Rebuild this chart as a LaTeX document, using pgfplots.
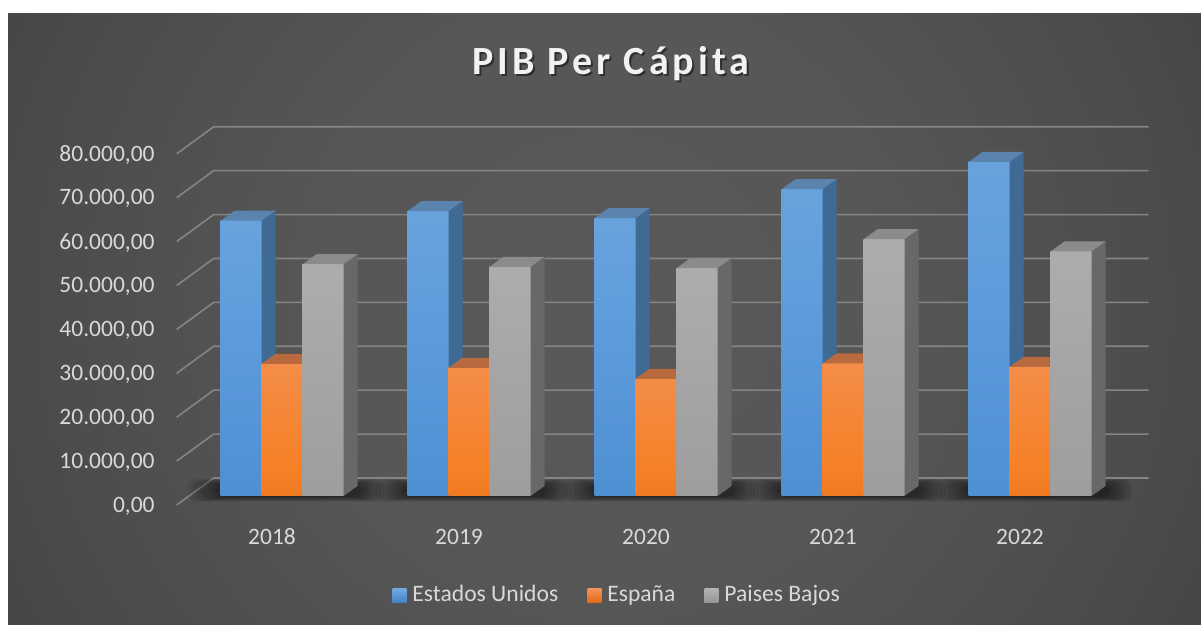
\documentclass[border=0pt]{standalone}
\usepackage{fontspec}
\setmainfont{Carlito}
\newfontfamily\titlefont[LetterSpace=10]{Carlito}
\usepackage{pgfplots}
\pgfplotsset{compat=1.18}
\usepackage{pgfplotstable}

\definecolor{bgdark}{HTML}{262626}
\definecolor{bglight}{HTML}{595959}
\definecolor{txt}{HTML}{D9D9D9}
\definecolor{gridc}{HTML}{858585}
\definecolor{blueT}{HTML}{76ABE0}
\definecolor{blueM}{HTML}{5A9ADB}
\definecolor{blueB}{HTML}{4385C9}
\definecolor{blueS}{HTML}{3F6A94}
\definecolor{blueTop}{HTML}{5A83AE}
\definecolor{orT}{HTML}{F3955D}
\definecolor{orM}{HTML}{F58026}
\definecolor{orB}{HTML}{E26A17}
\definecolor{orS}{HTML}{B4602E}
\definecolor{orTop}{HTML}{B8693D}
\definecolor{grT}{HTML}{B4B4B4}
\definecolor{grM}{HTML}{A5A5A5}
\definecolor{grB}{HTML}{969696}
\definecolor{grS}{HTML}{686868}
\definecolor{grTop}{HTML}{8B8B8B}

\pgfdeclareradialshading{bgshade}{\pgfpointorigin}{color(0bp)=(bglight); color(10bp)=(bglight!95!bgdark); color(20bp)=(bglight!72!bgdark); color(30bp)=(bglight!40!bgdark); color(38bp)=(bglight!12!bgdark); color(45bp)=(bgdark); color(50bp)=(bgdark)}
\pgfdeclareverticalshading{blueV}{100bp}{color(0bp)=(blueB); color(50bp)=(blueM); color(100bp)=(blueT)}
\pgfdeclareverticalshading{orV}{100bp}{color(0bp)=(orB); color(35bp)=(orM); color(100bp)=(orT)}
\pgfdeclareverticalshading{grV}{100bp}{color(0bp)=(grB); color(50bp)=(grM); color(100bp)=(grT)}

% bar height in pt from the raw value (axis: 175.6pt for 80000)
\newcommand\calchh{%
  \begingroup
  \pgfkeys{/pgf/fpu=true,/pgf/fpu/output format=fixed}%
  \pgfmathparse{\myy*0.002195}%
  \xdef\hh{\pgfmathresult}%
  \endgroup}

% whole 3D bar drawn at each data point: #2 = right edge offset
\newcommand\declbox[5]{%
  \pgfdeclareplotmark{#1}{%
    \calchh
    \pgfpathrectanglecorners{\pgfpoint{#2-20.5pt}{-\hh pt}}{\pgfpoint{#2}{0pt}}%
    \pgfshadepath{#5}{0}\pgfusepath{discard}%
    \pgfpathmoveto{\pgfpoint{#2}{-\hh pt}}%
    \pgfpathlineto{\pgfpoint{#2+7pt}{-\hh pt+5pt}}%
    \pgfpathlineto{\pgfpoint{#2+7pt}{5pt}}%
    \pgfpathlineto{\pgfpoint{#2}{0pt}}%
    \pgfpathclose
    \pgfsetfillcolor{#3}\pgfusepath{fill}%
    \pgfpathmoveto{\pgfpoint{#2-20.5pt}{0pt}}%
    \pgfpathlineto{\pgfpoint{#2}{0pt}}%
    \pgfpathlineto{\pgfpoint{#2+7pt}{5pt}}%
    \pgfpathlineto{\pgfpoint{#2-13.5pt}{5pt}}%
    \pgfpathclose
    \pgfsetfillcolor{#4}\pgfusepath{fill}%
  }}
\declbox{boxA}{-10.25pt}{blueS}{blueTop}{blueV}
\declbox{boxB}{10.25pt}{orS}{orTop}{orV}
\declbox{boxC}{30.75pt}{grS}{grTop}{grV}

% soft floor shadow below each group of bars
\newcommand\shlayer[4]{%
  \pgfscope
  \pgfsetfillopacity{0.07}\pgfsetfillcolor{black}%
  \pgfsetcornersarced{\pgfpoint{4pt}{4pt}}%
  \pgfpathrectanglecorners{\pgfpoint{#1}{-\hh pt+#2}}{\pgfpoint{#3}{-\hh pt+#4}}%
  \pgfusepath{fill}%
  \endpgfscope}
\pgfdeclareplotmark{floorshadow}{%
  \calchh
  \shlayer{-47pt}{-2.8pt}{51pt}{8.5pt}%
  \shlayer{-45pt}{-2.5pt}{49.5pt}{8.2pt}%
  \shlayer{-43pt}{-2.2pt}{48pt}{7.9pt}%
  \shlayer{-41pt}{-1.9pt}{46.5pt}{7.6pt}%
  \shlayer{-39pt}{-1.6pt}{45pt}{7.3pt}%
  \shlayer{-37pt}{-1.3pt}{43.5pt}{7pt}%
  \shlayer{-35.5pt}{-1pt}{42pt}{6.6pt}%
  \shlayer{-34pt}{-0.7pt}{40.5pt}{6.2pt}%
  \shlayer{-33pt}{-0.4pt}{39.5pt}{5.8pt}%
}

\pgfplotstableread{
idx year us es nl
0 2018 62700 30100 52800
1 2019 64900 29200 52200
2 2020 63300 26700 51900
3 2021 69900 30200 58500
4 2022 76100 29400 55700
}\datatable

\begin{document}
\begin{tikzpicture}
\useasboundingbox (0,0) rectangle (600.5pt,312.5pt);
\fill[white] (0,0) rectangle (600.5pt,312.5pt);
\fill[bgdark] (4pt,0) rectangle (600.5pt,305.5pt);
\begin{scope}
\clip (4pt,0) rectangle (600.5pt,305.5pt);
\shade[shading=bgshade] (302pt,160pt) circle (365pt);
\end{scope}

\node[anchor=base, text=black, opacity=0.45, font=\titlefont\bfseries\fontsize{20}{24}\selectfont] at (306.5pt,274.4pt) {PIB Per Cápita};
\node[anchor=base, text=white!95!black, font=\titlefont\bfseries\fontsize{20}{24}\selectfont] at (305.5pt,275.4pt) {PIB Per Cápita};

\begin{axis}[
  at={(95.2pt,64.5pt)}, anchor=south west,
  scale only axis, width=467.5pt, height=175.6pt,
  xmin=-0.49, xmax=4.51, ymin=0, ymax=80000,
  clip=false,
  axis line style={draw=none}, tick style={draw=none},
  scaled y ticks=false,
  xtick={0,1,2,3,4},
  xticklabels={2018,2019,2020,2021,2022},
  ytick={0,10000,20000,30000,40000,50000,60000,70000,80000},
  yticklabels={{0,00},{10.000,00},{20.000,00},{30.000,00},{40.000,00},{50.000,00},{60.000,00},{70.000,00},{80.000,00}},
  yticklabel style={anchor=east, inner sep=0pt, xshift=-17.7pt, yshift=-5pt, text=txt, font=\fontsize{11.75}{14}\selectfont},
  xticklabel style={anchor=center, inner sep=0pt, yshift=-20.5pt, xshift=-5pt, text=txt, font=\fontsize{11.75}{14}\selectfont},
  legend style={at={(0.4575,-0.282)}, anchor=center, draw=none, fill=none, text=txt,
    font=\fontsize{11.8}{14}\selectfont, legend columns=-1,
    /tikz/every even column/.append style={column sep=12.5pt}},
  sqlegend/.style={legend image code/.code={\path (0pt,0pt) -- (8pt,0pt);\fill[##1] (0pt,-3.5pt) rectangle (7pt,3.5pt);}},
]
\pgfplotsinvokeforeach{0,10000,20000,30000,40000,50000,60000,70000,80000}{
  \draw[gridc, line width=0.8pt] ([shift={(-6.85pt,-4.5pt)}]axis cs:-0.49,#1) -- ([shift={(11.65pt,9pt)}]axis cs:-0.49,#1) -- ([shift={(11.65pt,9pt)}]axis cs:4.51,#1);
}

\addplot[ybar, bar width=20.5pt, bar shift=-20.5pt, draw=none, top color=blueT, middle color=blueM, bottom color=blueB, sqlegend]
  table[x=idx, y=us] {\datatable};
\addlegendentry{Estados Unidos}
\addplot[ybar, bar width=20.5pt, bar shift=0pt, draw=none, top color=orT, middle color=orM, bottom color=orB, sqlegend]
  table[x=idx, y=es] {\datatable};
\addlegendentry{España}
\addplot[ybar, bar width=20.5pt, bar shift=20.5pt, draw=none, top color=grT, bottom color=grB, sqlegend]
  table[x=idx, y=nl] {\datatable};
\addlegendentry{Paises Bajos}

\addplot[scatter, only marks, mark=floorshadow, forget plot, visualization depends on=rawy \as \myy]
  table[x=idx, y=us] {\datatable};
\addplot[scatter, only marks, mark=boxA, forget plot, visualization depends on=rawy \as \myy]
  table[x=idx, y=us] {\datatable};
\addplot[scatter, only marks, mark=boxB, forget plot, visualization depends on=rawy \as \myy]
  table[x=idx, y=es] {\datatable};
\addplot[scatter, only marks, mark=boxC, forget plot, visualization depends on=rawy \as \myy]
  table[x=idx, y=nl] {\datatable};
\end{axis}
\end{tikzpicture}
\end{document}
